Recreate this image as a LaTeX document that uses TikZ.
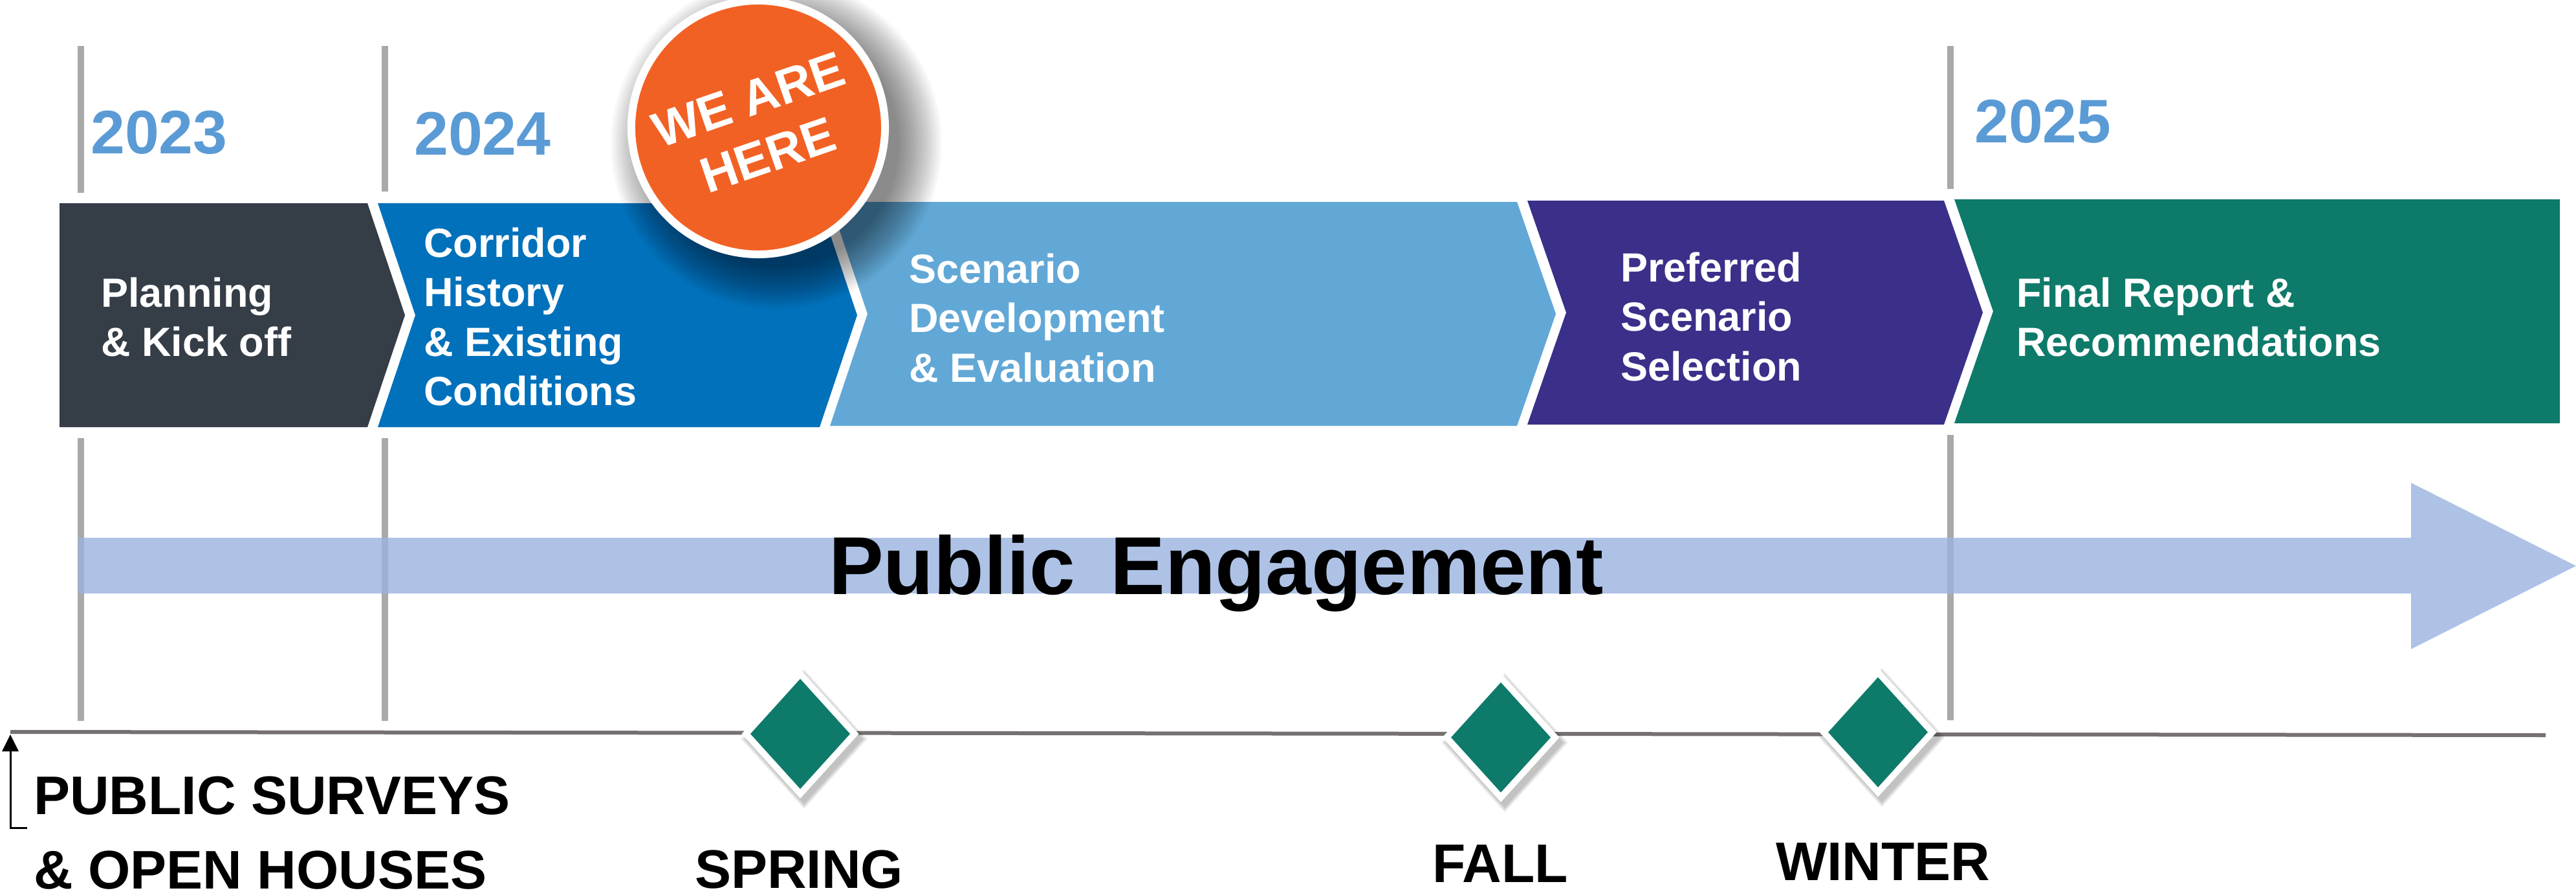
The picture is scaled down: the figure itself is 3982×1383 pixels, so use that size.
\documentclass[tikz,border=0pt]{standalone}
\usepackage{fontspec}
\setmainfont{Liberation Sans}
\usetikzlibrary{arrows.meta}

\definecolor{phaseslate}{HTML}{353D47}
\definecolor{phaseblue}{HTML}{0171BB}
\definecolor{phasesky}{HTML}{62A8D6}
\definecolor{phasepurple}{HTML}{3A2F89}
\definecolor{phaseteal}{HTML}{0E7A6A}
\definecolor{stickerorange}{HTML}{F26124}
\definecolor{yearblue}{HTML}{5B9BD5}
\definecolor{guidegray}{HTML}{A9A9A9}
\definecolor{axisgray}{HTML}{767171}
\definecolor{bandblue}{HTML}{9AB3E0}

% left-aligned stacked lines whose baseline is the first line
\newcommand\phaselines[1]{\begin{tabular}[t]{@{}l@{}}#1\end{tabular}}

\begin{document}
\begin{tikzpicture}[x=1pt,y=-1pt,
  phase/.style={font=\fontsize{63}{76.5}\selectfont\bfseries, text=white,
    anchor=base west, inner sep=0pt},
  year/.style={font=\fontsize{95}{110}\selectfont\bfseries, text=yearblue,
    anchor=base west, inner sep=0pt},
  season/.style={font=\fontsize{84}{115}\selectfont\bfseries, text=black,
    anchor=base west, inner sep=0pt},
  guide/.style={draw=guidegray, line width=10pt},
  milestone/.style={fill=phaseteal},
]
\useasboundingbox (0,0) rectangle (3982,1383);
\fill[white] (0,0) rectangle (3982,1383);

% year guide lines
\draw[guide] (125,71) -- (125,298);
\draw[guide] (125,677) -- (125,1114);
\draw[guide] (595,71) -- (595,296);
\draw[guide] (595,677) -- (595,1114);
\draw[guide] (3015,71) -- (3015,292);
\draw[guide] (3015,672) -- (3015,1113);

% year labels
\node[year] (y2023) at (140,237) {2023};
\node[year] (y2024) at (640,239) {2024};
\node[year] (y2025) at (3052,221) {2025};

% phase chevrons
\fill[phaseslate] (92,314) -- (568,314) -- (626,487) -- (568,660) -- (92,660) -- cycle;
\fill[phaseblue] (584,314) -- (1267,314) -- (1325,487) -- (1267,660) -- (584,660) -- (642,487) -- cycle;
\fill[phasesky] (1283,312) -- (2345,312) -- (2405,485) -- (2345,658) -- (1283,658) -- (1341,485) -- cycle;
\fill[phasepurple] (2361,310) -- (3005,310) -- (3065,483) -- (3005,656) -- (2361,656) -- (2421,483) -- cycle;
\fill[phaseteal] (3021,308) -- (3957,308) -- (3957,654) -- (3021,654) -- (3081,481) -- cycle;

% phase labels
\node[phase] (t-plan) at (156,474) {\phaselines{Planning\\\& Kick off}};
\node[phase] (t-corr) at (655,397) {\phaselines{Corridor\\History\\\& Existing\\Conditions}};
\node[phase] (t-scen) at (1405,437) {\phaselines{Scenario\\Development\\\& Evaluation}};
\node[phase] (t-pref) at (2505,435) {\phaselines{Preferred\\Scenario\\Selection}};
\node[phase] (t-final) at (3117,474) {\phaselines{Final Report \&\\Recommendations}};

% soft shadow of the sticker, cast towards the lower right
\foreach \r in {0,3,...,66}
  \fill[black, opacity=0.022] (1200,222) circle[radius={(190+\r)*1pt}];

% "we are here" sticker
\node[circle, fill=stickerorange, draw=white, line width=12pt,
  minimum size=392pt, inner sep=0pt, text=white,
  font=\fontsize{77}{91}\selectfont\bfseries, align=center, rotate=19]
  (here) at (1172,197) {WE ARE\\HERE};

% public engagement band
\fill[bandblue, opacity=0.8] (121,831) -- (3727,831) -- (3727,746) -- (3982,874.5)
  -- (3727,1003) -- (3727,917) -- (121,917) -- cycle;
\node[font=\fontsize{127}{150}\selectfont\bfseries, anchor=base west, inner sep=0pt]
  (engagement) at (1281,918) {Public\hspace{0.15em} Engagement};

% engagement axis
\coordinate (axis-start) at (16,1131);
\coordinate (axis-end) at (3935,1136);
\coordinate (axis-foot) at (16,1135);
\coordinate (survey-corner) at (42,1279);
\draw[axisgray, line width=6pt] (axis-start) -- (axis-end);
\draw[black, line width=3pt, -{Triangle[width=25pt,length=26pt]}]
  (survey-corner) -| (axis-foot);

% milestones on the axis
\foreach \cx/\cy [count=\i] in {1237/1134, 2320/1139.5, 2903/1131.5} {
  \begin{scope}[shift={(\cx,\cy)}]
    \foreach \s in {0,2,...,8}
      \fill[black, opacity=0.05] (6,{-100-\s+8}) -- ({90+\s+6},8) -- (6,{100+\s+8}) -- ({-90-\s+6},8) -- cycle;
    \draw[white, line width=20pt, line join=miter, fill=white]
      (0,-85) -- (77,0) -- (0,85) -- (-77,0) -- cycle;
    \fill[milestone] (0,-85) -- (77,0) -- (0,85) -- (-77,0) -- cycle;
  \end{scope}
}

% axis labels
\node[season] (surveys) at (52,1258) {\phaselines{PUBLIC SURVEYS\\\& OPEN HOUSES}};
\node[season] (spring) at (1074,1372) {SPRING};
\node[season] (fall) at (2214,1363) {FALL};
\node[season] (winter) at (2745,1360) {WINTER};
\end{tikzpicture}
\end{document}
